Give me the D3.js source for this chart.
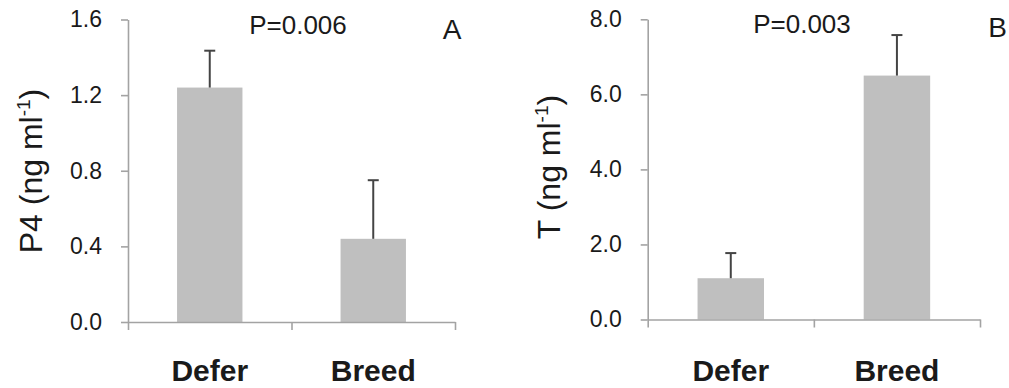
<!DOCTYPE html>
<html>
<head>
<meta charset="utf-8">
<script src="https://cdn.jsdelivr.net/npm/d3@7"></script>
<style>
  html, body { margin: 0; padding: 0; background: #fff; }
  svg { display: block; }
  text { font-family: "Liberation Sans", Arial, sans-serif; fill: #1a1a1a; }
</style>
</head>
<body>
<svg id="chart" width="1009" height="388"></svg>
<script>
// ---- data ----
const categories = ["Defer", "Breed"];
const p4Means = [1.24, 0.44];
const p4Upper = [1.435, 0.75];
const tMeans = [1.1, 6.5];
const tUpper = [1.77, 7.58];
const p4Ticks = [0.0, 0.4, 0.8, 1.2, 1.6];
const tTicks = [0.0, 2.0, 4.0, 6.0, 8.0];
const pValues = ["P=0.006", "P=0.003"];
const panelLetters = ["A", "B"];
const yLabels = [["P4 (ng ml", "-1", ")"], ["T (ng ml", "-1", ")"]];

// ---- layout ----
const panels = [
  { x0: 128, x1: 455, y0: 322, y1: 19.5, means: p4Means, upper: p4Upper, ticks: p4Ticks,
    ylabX: 42, ylabY: 171, pX: 298, pY: 34, letX: 452, letY: 39 },
  { x0: 647.7, x1: 980, y0: 319.5, y1: 19.3, means: tMeans, upper: tUpper, ticks: tTicks,
    ylabX: 560, ylabY: 167, pX: 802, pY: 33, letX: 997.5, letY: 37 }
];

const svg = d3.select("#chart");
const axisColor = "#a3a3a3";

panels.forEach((p, i) => {
  const g = svg.append("g");
  const y = d3.scaleLinear()
    .domain([p.ticks[0], p.ticks[p.ticks.length - 1]])
    .range([p.y0, p.y1]);
  const x = d3.scaleBand()
    .domain(categories)
    .range([p.x0, p.x1])
    .paddingInner(0.6)
    .paddingOuter(0.3);
  const xb = d3.scaleLinear().domain([0, categories.length]).range([p.x0, p.x1]);

  // bars
  g.selectAll("rect.bar").data(p.means).enter().append("rect")
    .attr("class", "bar")
    .attr("x", (d, j) => x(categories[j]))
    .attr("width", x.bandwidth())
    .attr("y", d => y(d))
    .attr("height", d => y(0) - y(d))
    .attr("fill", "#bfbfbf");

  // error bars (upper only)
  const cap = 11;
  p.means.forEach((m, j) => {
    const cx = x(categories[j]) + x.bandwidth() / 2;
    g.append("line")
      .attr("x1", cx).attr("x2", cx)
      .attr("y1", y(m)).attr("y2", y(p.upper[j]))
      .attr("stroke", "#444").attr("stroke-width", 2);
    g.append("line")
      .attr("x1", cx - cap / 2).attr("x2", cx + cap / 2)
      .attr("y1", y(p.upper[j])).attr("y2", y(p.upper[j]))
      .attr("stroke", "#444").attr("stroke-width", 2);
  });

  // y axis
  const ya = g.append("g")
    .attr("transform", `translate(${p.x0},0)`)
    .call(d3.axisLeft(y).tickValues(p.ticks).tickFormat(d3.format(".1f"))
      .tickSize(7).tickSizeOuter(0).tickPadding(19));
  ya.attr("font-size", 23).attr("font-family", '"Liberation Sans", Arial, sans-serif');
  ya.select(".domain").attr("stroke", axisColor).attr("stroke-width", 1.6);
  ya.selectAll(".tick line").attr("stroke", axisColor).attr("stroke-width", 1.6);
  ya.selectAll(".tick text").attr("fill", "#1a1a1a").style("font-size", "23px");

  // x axis
  const xa = g.append("g")
    .attr("transform", `translate(0,${p.y0})`)
    .call(d3.axisBottom(xb).tickValues(d3.range(categories.length + 1))
      .tickFormat("").tickSize(8).tickSizeOuter(0));
  xa.select(".domain").attr("stroke", axisColor).attr("stroke-width", 1.6);
  xa.selectAll(".tick line").attr("stroke", axisColor).attr("stroke-width", 1.6);

  // category labels
  g.selectAll("text.cat").data(categories).enter().append("text")
    .attr("class", "cat")
    .attr("x", d => x(d) + x.bandwidth() / 2)
    .attr("y", 381)
    .attr("text-anchor", "middle")
    .style("font-size", "30px")
    .style("font-weight", "bold")
    .text(d => d);

  // y label
  const yl = g.append("text")
    .attr("transform", `translate(${p.ylabX},${p.ylabY}) rotate(-90)`)
    .attr("text-anchor", "middle")
    .style("font-size", "32px");
  yl.append("tspan").text(yLabels[i][0]);
  yl.append("tspan").attr("dy", -12).style("font-size", "19px").text(yLabels[i][1]);
  yl.append("tspan").attr("dy", 12).text(yLabels[i][2]);

  // p-value
  g.append("text")
    .attr("x", p.pX).attr("y", p.pY)
    .attr("text-anchor", "middle")
    .style("font-size", "26px")
    .text(pValues[i]);

  // panel letter
  g.append("text")
    .attr("x", p.letX).attr("y", p.letY)
    .attr("text-anchor", "middle")
    .style("font-size", "28px")
    .text(panelLetters[i]);
});
</script>
</body>
</html>
